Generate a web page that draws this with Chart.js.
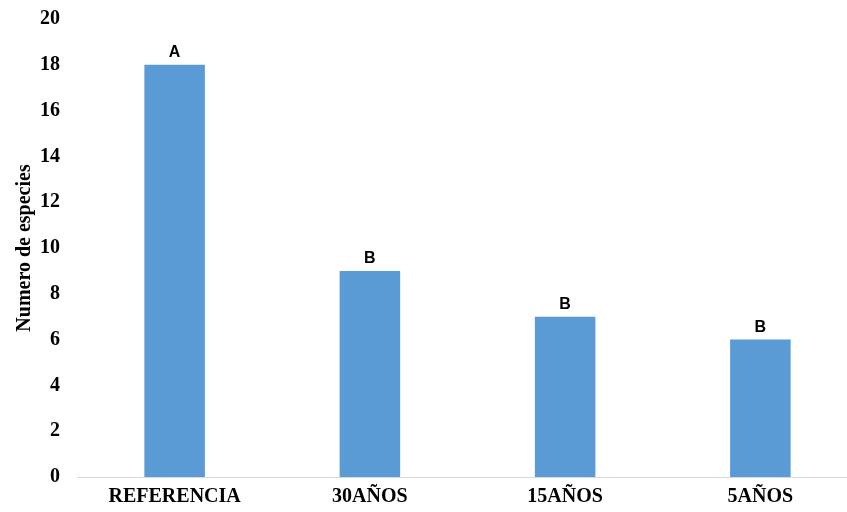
<!DOCTYPE html>
<html>
<head>
<meta charset="utf-8">
<script src="https://cdn.jsdelivr.net/npm/chart.js@4/dist/chart.umd.min.js"></script>
<style>
  html, body { margin: 0; padding: 0; background: #fff; overflow: hidden; }
  #wrap { width: 862px; height: 512px; position: relative; }
</style>
</head>
<body>
<div id="wrap"><canvas id="c" width="862" height="512"></canvas></div>
<script>
const categories = ["REFERENCIA", "30AÑOS", "15AÑOS", "5AÑOS"];
const especies = [18, 9, 7, 6];
const letras = ["A", "B", "B", "B"];
const yTicks = [0, 2, 4, 6, 8, 10, 12, 14, 16, 18, 20];

const serif = '"Liberation Serif", "Times New Roman", serif';

// Draws the significance letter above each bar
const letterPlugin = {
  id: 'letras',
  afterDatasetsDraw(chart) {
    const ctx = chart.ctx;
    const meta = chart.getDatasetMeta(0);
    ctx.save();
    ctx.font = 'bold 16px "Liberation Sans", Arial, sans-serif';
    ctx.fillStyle = '#000';
    ctx.textAlign = 'center';
    ctx.textBaseline = 'alphabetic';
    meta.data.forEach((bar, i) => {
      ctx.fillText(letras[i], bar.x, bar.y - 8);
    });
    ctx.restore();
  }
};

new Chart(document.getElementById('c'), {
  type: 'bar',
  data: {
    labels: categories,
    datasets: [{
      data: especies,
      backgroundColor: '#5B9BD5',
      borderWidth: 0,
      categoryPercentage: 1,
      barPercentage: 0.31
    }]
  },
  options: {
    responsive: false,
    animation: false,
    layout: { padding: { top: 0, right: 4, bottom: 0, left: 0 } },
    plugins: { legend: { display: false }, tooltip: { enabled: false } },
    scales: {
      x: {
        afterFit(axis) { axis.height = 35; },
        grid: { display: false, drawTicks: false },
        border: { display: true, color: '#d9d9d9', width: 1 },
        ticks: {
          color: '#000',
          padding: 8,
          font: { family: serif, size: 20, weight: 'bold' }
        }
      },
      y: {
        min: 0, max: 20,
        afterBuildTicks(axis) { axis.ticks = yTicks.map(v => ({ value: v })); },
        afterFit(axis) {
          axis.width = 77;
          axis.paddingTop = 19;
          axis.paddingBottom = 0;
        },
        grid: { display: false, drawTicks: false },
        border: { display: false },
        ticks: {
          color: '#000',
          padding: 17,
          font: { family: serif, size: 20, weight: 'bold' }
        },
        title: {
          display: true,
          text: 'Numero de especies',
          color: '#000',
          padding: { top: 13, bottom: 0 },
          font: { family: serif, size: 20, weight: 'bold' }
        }
      }
    }
  },
  plugins: [letterPlugin]
});
</script>
</body>
</html>
